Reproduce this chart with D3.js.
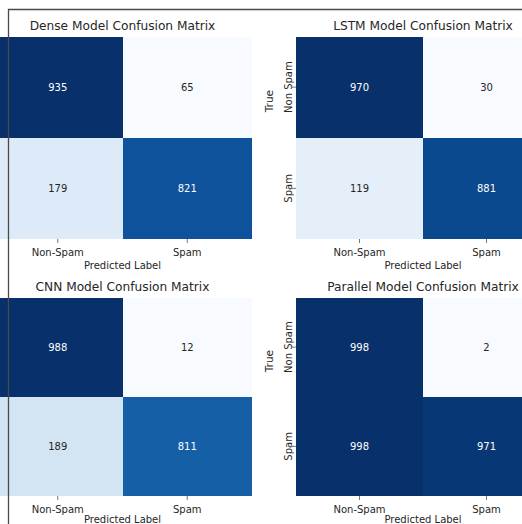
<!DOCTYPE html>
<html>
<head>
<meta charset="utf-8">
<script src="https://cdn.jsdelivr.net/npm/d3@7"></script>
<style>
  html, body { margin: 0; padding: 0; background: #ffffff; }
  svg { display: block; font-family: "DejaVu Sans", sans-serif; }
</style>
</head>
<body>
<svg id="chart" width="522" height="524"></svg>
<script>
// Confusion matrices of the four spam classifiers (rows: true class, cols: predicted class)
const modelNames = ["Dense", "LSTM", "CNN", "Parallel"];
const predictedLabels = ["Non-Spam", "Spam"];
const trueLabels = ["Non Spam", "Spam"];
const denseMatrix = [[935, 65], [179, 821]];
const lstmMatrix = [[970, 30], [119, 881]];
const cnnMatrix = [[988, 12], [189, 811]];
const parallelMatrix = [[998, 2], [998, 971]];

const matrices = [denseMatrix, lstmMatrix, cnnMatrix, parallelMatrix];

// Grid placement of each heatmap (2 x 2 figure)
const layout = [
  { left: -7,  right: 252, top: 36.5,  bottom: 239, yAxis: false },
  { left: 296, right: 550, top: 36.5,  bottom: 239, yAxis: true  },
  { left: -7,  right: 252, top: 297.5, bottom: 496, yAxis: false },
  { left: 296, right: 550, top: 297.5, bottom: 496, yAxis: true  }
];

const W = 522, H = 524;
const svg = d3.select("#chart");
const textDark = "#262626";

function luminance(c) {
  const rgb = d3.rgb(c);
  const lin = v => { v /= 255; return v <= 0.03928 ? v / 12.92 : Math.pow((v + 0.055) / 1.055, 2.4); };
  return 0.2126 * lin(rgb.r) + 0.7152 * lin(rgb.g) + 0.0722 * lin(rgb.b);
}

matrices.forEach((matrix, i) => {
  const box = layout[i];
  const flat = matrix.flat();
  const color = d3.scaleSequential(d3.interpolateBlues)
    .domain([d3.min(flat), d3.max(flat)]);

  const x = d3.scaleBand().domain(predictedLabels).range([box.left, box.right]);
  const y = d3.scaleBand().domain(trueLabels).range([box.top, box.bottom]);

  const cells = [];
  matrix.forEach((row, r) => row.forEach((v, c) => {
    cells.push({ row: trueLabels[r], col: predictedLabels[c], value: v });
  }));

  const g = svg.append("g");

  g.selectAll("rect")
    .data(cells)
    .join("rect")
    .attr("x", d => x(d.col))
    .attr("y", d => y(d.row))
    .attr("width", x.bandwidth())
    .attr("height", y.bandwidth())
    .attr("shape-rendering", "crispEdges")
    .attr("fill", d => color(d.value));

  g.selectAll("text.annot")
    .data(cells)
    .join("text")
    .attr("class", "annot")
    .attr("x", d => x(d.col) + x.bandwidth() / 2)
    .attr("y", d => y(d.row) + y.bandwidth() / 2)
    .attr("dy", "0.35em")
    .attr("text-anchor", "middle")
    .attr("font-size", 10)
    .attr("fill", d => luminance(color(d.value)) > 0.408 ? textDark : "#ffffff")
    .text(d => d.value);

  // x axis: predicted class
  const xAxis = g.append("g")
    .attr("transform", `translate(0,${box.bottom})`)
    .call(d3.axisBottom(x).tickSize(4).tickPadding(5.5));
  xAxis.select(".domain").remove();
  xAxis.selectAll(".tick line").attr("stroke", "#555").attr("stroke-width", 0.8);
  xAxis.selectAll(".tick text")
    .attr("font-size", 10)
    .attr("font-family", "DejaVu Sans, sans-serif")
    .attr("fill", textDark);

  g.append("text")
    .attr("x", (box.left + box.right) / 2)
    .attr("y", Math.min(box.bottom + 29.6, H - 1.5))
    .attr("text-anchor", "middle")
    .attr("font-size", 10)
    .attr("fill", textDark)
    .text("Predicted Label");

  // y axis: true class
  if (box.yAxis) {
    const yAxis = g.append("g")
      .attr("transform", `translate(${box.left},0)`)
      .call(d3.axisLeft(y).tickSize(4).tickFormat(""));
    yAxis.select(".domain").remove();
    yAxis.selectAll(".tick line").attr("stroke", "#555").attr("stroke-width", 0.8);

    g.selectAll("text.ytick")
      .data(trueLabels)
      .join("text")
      .attr("class", "ytick")
      .attr("transform", d => `translate(${box.left - 8},${y(d) + y.bandwidth() / 2}) rotate(-90)`)
      .attr("dy", "0.35em")
      .attr("text-anchor", "middle")
      .attr("font-size", 10)
      .attr("fill", textDark)
      .text(d => d);

    g.append("text")
      .attr("transform", `translate(${box.left - 27},${y(trueLabels[0]) + y.bandwidth() / 2 + 14}) rotate(-90)`)
      .attr("dy", "0.35em")
      .attr("text-anchor", "middle")
      .attr("font-size", 10.5)
      .attr("fill", textDark)
      .text("True");
  }

  g.append("text")
    .attr("x", (box.left + box.right) / 2)
    .attr("y", box.top - 10.5)
    .attr("dy", "0.35em")
    .attr("text-anchor", "middle")
    .attr("font-size", 12.2)
    .attr("fill", textDark)
    .text(`${modelNames[i]} Model Confusion Matrix`);
});

// Figure frame
svg.append("path")
  .attr("d", `M8.5,${H} L8.5,9.5 L${W},9.5`)
  .attr("fill", "none")
  .attr("stroke", "#4a4a4a")
  .attr("stroke-width", 1.3);
</script>
</body>
</html>
